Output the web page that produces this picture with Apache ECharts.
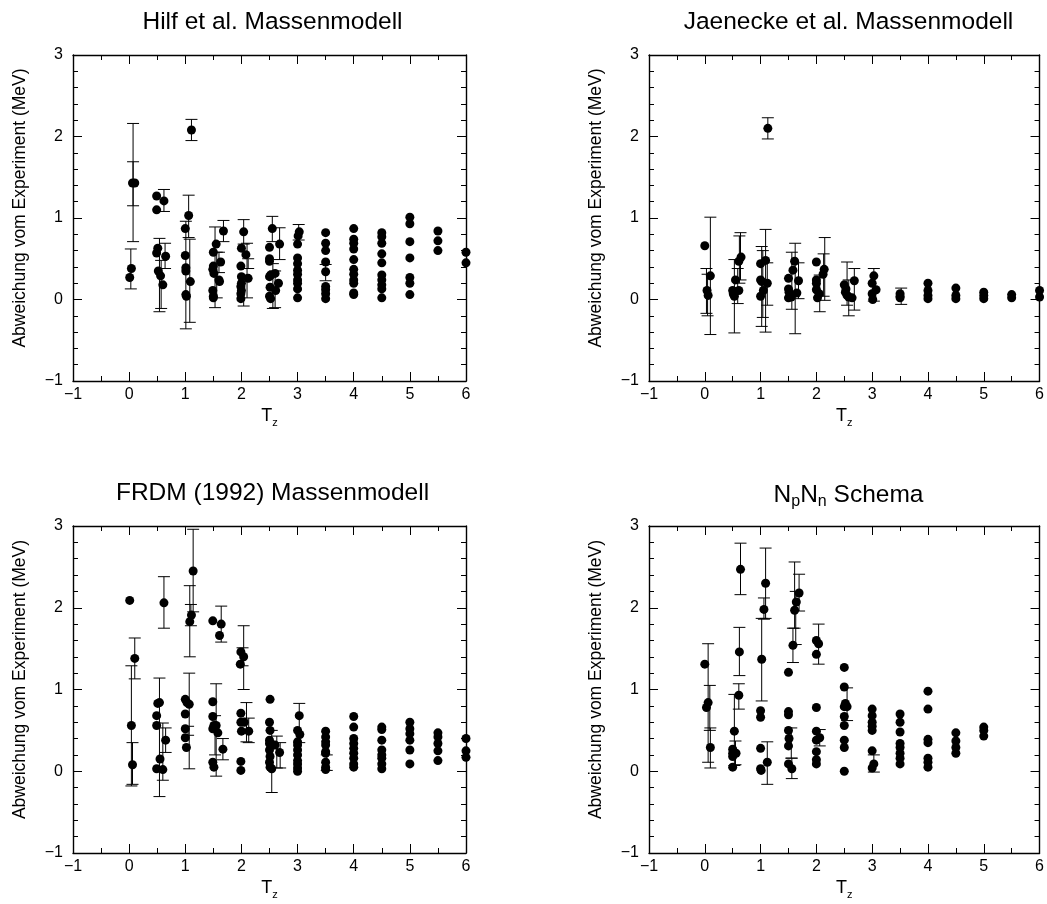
<!DOCTYPE html>
<html>
<head>
<meta charset="utf-8">
<script src="https://cdn.jsdelivr.net/npm/echarts@6/dist/echarts.min.js"></script>
<style>
html,body{margin:0;padding:0;background:#fff;}
#chart{width:1047px;height:904px;}
</style>
</head>
<body>
<div id="chart"></div>
<script>
// ---------- DATA ----------
const panelTitles = ['Hilf et al. Massenmodell', 'Jaenecke et al. Massenmodell', 'FRDM (1992) Massenmodell', '{a|N}{s|p}{a|N}{s|n}{a| Schema}'];
const yAxisTitle = 'Abweichung vom Experiment (MeV)';

// Hilf et al. : points [Tz, deviation]
const hilfPoints = [
  [0.01,0.27],[0.04,0.38],[0.06,1.43],[0.1,1.43],
  [0.49,1.27],[0.49,1.10],[0.62,1.21],[0.51,0.63],[0.49,0.57],[0.52,0.35],[0.56,0.29],[0.6,0.18],[0.65,0.53],
  [1.11,2.08],[1.0,0.87],[1.06,1.03],[1.0,0.54],[1.01,0.39],[1.01,0.35],[1.09,0.22],[1.01,0.06],[1.02,0.04],
  [1.5,0.58],[1.55,0.68],[1.68,0.84],[1.5,0.41],[1.49,0.37],[1.51,0.32],[1.63,0.46],[1.6,0.24],[1.61,0.22],[1.49,0.11],[1.5,0.04],[1.5,0.02],
  [2.04,0.83],[2.0,0.63],[2.08,0.55],[1.99,0.41],[2.0,0.28],[2.12,0.26],[2.0,0.2],[1.99,0.16],[2.0,0.11],[1.99,0.07],[1.99,0.01],
  [2.55,0.87],[2.68,0.68],[2.5,0.64],[2.5,0.5],[2.5,0.47],[2.52,0.3],[2.5,0.28],[2.6,0.32],[2.66,0.2],[2.51,0.15],[2.61,0.11],[2.5,0.04],[2.52,0.01],
  [3.03,0.83],[3.01,0.78],[3,0.68],[3,0.51],[3,0.44],[3,0.36],[3,0.31],[3,0.24],[3,0.2],[3,0.13],[3,0.02],
  [3.5,0.82],[3.5,0.69],[3.5,0.6],[3.5,0.46],[3.5,0.34],[3.5,0.16],[3.5,0.12],[3.5,0.07],[3.5,0.01],
  [4,0.87],[4,0.74],[4,0.69],[4,0.62],[4,0.49],[4,0.37],[4,0.31],[4,0.24],[4,0.2],[4,0.08],[4,0.06],
  [4.5,0.82],[4.5,0.77],[4.5,0.69],[4.5,0.56],[4.5,0.45],[4.5,0.3],[4.5,0.24],[4.5,0.18],[4.5,0.13],[4.5,0.02],
  [5,1.01],[5,0.93],[5,0.71],[5,0.51],[5,0.27],[5,0.2],[5,0.06],
  [5.5,0.84],[5.5,0.72],[5.5,0.6],
  [6,0.58],[6,0.45]
];
// error bars [Tz, low, high]
const hilfErrors = [
  [0.07,0.71,2.16],[0.07,1.15,1.69],[0.03,0.13,0.62],
  [0.62,1.08,1.35],[0.64,0.38,0.69],[0.54,-0.15,0.75],[0.57,-0.11,0.48],
  [1.11,1.95,2.21],[1.06,0.76,1.28],[1.01,-0.36,0.96],[1.08,-0.28,0.74],
  [1.53,-0.1,0.89],[1.56,0.02,0.58],[1.68,0.71,0.97],[1.6,0.33,0.58],
  [2.04,0.68,0.98],[2.04,-0.08,0.3],[2.1,0.02,0.69],[2.12,0.38,0.5],
  [2.55,0.71,1.02],[2.68,0.49,0.88],[2.56,-0.11,0.44],[2.6,-0.1,0.35],
  [3.02,0.73,0.92],[3.5,0.23,0.43]
];

// Jaenecke et al.
const jaenPoints = [
  [0,0.66],[0.04,0.11],[0.06,0.05],[0.1,0.29],
  [0.5,0.11],[0.51,0.07],[0.53,0.04],[0.55,0.24],[0.61,0.11],[0.61,0.47],[0.65,0.52],
  [1.0,0.44],[1.09,0.48],[1.0,0.24],[1.02,0.22],[1.12,0.2],[1.05,0.11],[1.0,0.04],[1.13,2.1],
  [1.5,0.26],[1.61,0.47],[1.58,0.36],[1.68,0.23],[1.5,0.13],[1.51,0.09],[1.5,0.02],[1.55,0.03],[1.65,0.08],
  [2,0.46],[2.14,0.37],[2.12,0.31],[2,0.24],[2,0.2],[2,0.12],[2.05,0.07],[2.02,0.02],
  [2.68,0.23],[2.5,0.18],[2.53,0.13],[2.52,0.09],[2.55,0.05],[2.58,0.03],[2.64,0.02],
  [3.03,0.29],[3,0.2],[3.07,0.12],[3,0.07],[3.01,0.0],
  [3.5,0.07],[3.5,0.04],[3.5,0.02],
  [4,0.2],[4,0.11],[4,0.05],[4,0.01],
  [4.5,0.14],[4.5,0.05],[4.5,0.01],
  [5,0.09],[5,0.05],[5,0.01],
  [5.5,0.06],[5.5,0.02],
  [6,0.11],[6,0.03]
];
const jaenErrors = [
  [0.1,-0.43,1.01],[0.03,-0.17,0.38],[0.05,-0.2,0.31],
  [0.53,-0.41,0.49],[0.59,-0.05,0.38],[0.64,0.24,0.82],[0.62,0.2,0.78],
  [1.02,-0.33,0.65],[1.09,-0.4,0.86],[1.12,-0.07,0.45],[1.04,-0.22,0.6],[1.13,1.97,2.23],
  [1.56,-0.12,0.58],[1.62,-0.42,0.69],[1.68,0.01,0.45],
  [2.15,-0.01,0.76],[2.13,0.04,0.56],[2.06,-0.15,0.3],
  [2.55,-0.07,0.46],[2.58,-0.2,0.24],[2.68,-0.13,0.38],
  [3.03,-0.02,0.38],[3.52,-0.06,0.14]
];

// FRDM (1992)
const frdmPoints = [
  [0.01,2.09],[0.1,1.38],[0.04,0.56],[0.06,0.08],
  [0.62,2.06],[0.51,0.83],[0.54,0.84],[0.49,0.68],[0.49,0.56],[0.65,0.38],[0.55,0.15],[0.49,0.03],[0.6,0.02],
  [1.14,2.45],[1.11,1.91],[1.08,1.83],[1.0,0.88],[1.03,0.84],[1.07,0.82],[1.0,0.7],[1.0,0.52],[1.0,0.41],[1.02,0.29],
  [1.49,1.84],[1.64,1.8],[1.61,1.66],[1.49,0.85],[1.49,0.67],[1.51,0.56],[1.55,0.56],[1.49,0.52],[1.58,0.47],[1.67,0.27],[1.49,0.11],[1.51,0.05],
  [1.99,1.46],[2.04,1.4],[1.98,1.31],[1.99,0.71],[1.99,0.6],[2.05,0.6],[2.0,0.49],[2.13,0.49],[1.99,0.12],[1.99,0.01],
  [2.51,0.88],[2.5,0.6],[2.51,0.5],[2.5,0.38],[2.5,0.34],[2.56,0.32],[2.6,0.32],[2.68,0.23],[2.5,0.26],[2.51,0.18],[2.5,0.11],[2.51,0.05],[2.54,0.03],
  [3.03,0.68],[3,0.5],[3.04,0.45],[3,0.36],[3,0.32],[3,0.26],[3,0.2],[3,0.13],[3,0.09],[3,0.04],[3,0.0],
  [3.5,0.49],[3.5,0.42],[3.5,0.36],[3.5,0.32],[3.5,0.24],[3.5,0.22],[3.5,0.11],[3.5,0.05],[3.5,0.02],
  [4,0.67],[4,0.54],[4,0.4],[4,0.34],[4,0.28],[4,0.22],[4,0.16],[4,0.09],[4,0.05],
  [4.5,0.54],[4.5,0.51],[4.5,0.38],[4.5,0.26],[4.5,0.2],[4.5,0.16],[4.5,0.09],[4.5,0.03],
  [5,0.6],[5,0.52],[5,0.46],[5,0.38],[5,0.26],[5,0.09],
  [5.5,0.47],[5.5,0.42],[5.5,0.34],[5.5,0.25],[5.5,0.13],
  [6,0.4],[6,0.25],[6,0.17]
];
const frdmErrors = [
  [0.1,1.13,1.63],[0.04,-0.18,1.29],[0.06,-0.16,0.35],
  [0.62,1.75,2.38],[0.65,0.23,0.53],[0.54,-0.31,1.14],[0.6,-0.11,0.59],
  [1.14,1.95,2.96],[1.08,1.4,2.27],[1.1,1.78,2.04],[1.07,0.03,1.2],[1.05,0.44,0.55],
  [1.64,1.58,2.02],[1.67,0.14,0.4],[1.55,-0.06,1.07],[1.53,0.2,0.68],
  [2.04,1.0,1.78],[2.02,1.29,1.51],[2.09,0.36,0.84],[2.13,0.35,0.65],
  [2.54,-0.26,0.5],[2.63,0.04,0.43],[2.69,0.04,0.35],
  [3.03,0.35,0.83],[3.52,0.01,0.2]
];

// NpNn Schema
const npnnPoints = [
  [0,1.31],[0.06,0.84],[0.03,0.78],[0.1,0.29],
  [0.64,2.47],[0.62,1.46],[0.61,0.93],[0.53,0.49],[0.5,0.27],[0.5,0.22],[0.56,0.22],[0.5,0.18],[0.5,0.05],
  [1.09,2.3],[1.06,1.98],[1.02,1.37],[1.0,0.74],[1.0,0.66],[1.0,0.28],[1.0,0.03],[1.01,0.01],[1.12,0.11],
  [1.5,1.21],[1.5,0.73],[1.5,0.69],[1.5,0.5],[1.51,0.4],[1.5,0.31],[1.5,0.09],[1.56,0.03],
  [1.69,2.18],[1.64,2.07],[1.61,1.97],[1.58,1.54],
  [2,1.6],[2.04,1.56],[2,1.43],[2,0.78],[2,0.49],[2.06,0.41],[2,0.38],[2,0.24],[2,0.14],[2,0.09],
  [2.5,1.27],[2.5,1.03],[2.52,0.83],[2.55,0.79],[2.5,0.79],[2.5,0.67],[2.5,0.56],[2.5,0.38],[2.5,0.29],[2.5,0.0],
  [3,0.76],[3,0.68],[3,0.6],[3,0.55],[3,0.5],[3,0.25],[3.03,0.09],[3,0.04],
  [3.5,0.7],[3.5,0.6],[3.5,0.48],[3.5,0.34],[3.5,0.29],[3.5,0.22],[3.5,0.16],[3.5,0.09],
  [4,0.98],[4,0.76],[4,0.39],[4,0.35],[4,0.16],[4,0.11],[4,0.05],
  [4.5,0.47],[4.5,0.37],[4.5,0.29],[4.5,0.22],
  [5,0.54],[5,0.5],[5,0.43]
];
const npnnErrors = [
  [0.06,0.11,1.56],[0.09,0.5,1.05],[0.1,0.04,0.53],
  [0.64,2.16,2.79],[0.62,1.17,1.76],[0.61,0.76,1.07],[0.53,0.07,0.94],[0.55,0.08,0.37],
  [1.09,1.87,2.73],[1.06,1.86,2.12],[1.02,0.86,1.87],[1.12,-0.16,0.36],
  [1.69,1.96,2.41],[1.61,1.75,2.56],[1.58,1.33,1.75],[1.63,1.55,2.2],[1.56,-0.09,0.16],[1.55,0.16,0.53],
  [2.04,1.31,1.8],[2.06,0.31,0.51],
  [2.55,0.62,1.02],[3.03,-0.01,0.2]
];

// ---------- LAYOUT ----------
const FONT = '"Liberation Sans", Arial, Helvetica, sans-serif';
const grids = [
  {left: 73, top: 55, width: 393, height: 326},
  {left: 649, top: 55, width: 393, height: 326},
  {left: 73, top: 526, width: 393, height: 327},
  {left: 649, top: 526, width: 393, height: 327}
];
const panels = [
  {pts: hilfPoints, err: hilfErrors},
  {pts: jaenPoints, err: jaenErrors},
  {pts: frdmPoints, err: frdmErrors},
  {pts: npnnPoints, err: npnnErrors}
];
const minus = v => String(v).replace('-', '\u2212');
const lineStyle = {color: '#000', width: 1.4};

const xAxes = [], yAxes = [], series = [], titles = [];
grids.forEach((g, i) => {
  const baseX = {
    gridIndex: i, type: 'value', min: -1, max: 6, interval: 1,
    axisLine: {show: true, onZero: false, lineStyle},
    axisTick: {show: true, inside: true, length: 9, lineStyle: {color: '#000', width: 1}},
    minorTick: {show: true, splitNumber: 2, length: 5, lineStyle: {color: '#000', width: 1}},
    splitLine: {show: false}, minorSplitLine: {show: false}
  };
  const baseY = {
    gridIndex: i, type: 'value', min: -1, max: 3, interval: 1,
    axisLine: {show: true, onZero: false, lineStyle},
    axisTick: {show: true, inside: true, length: 9, lineStyle: {color: '#000', width: 1}},
    minorTick: {show: true, splitNumber: 5, length: 5, lineStyle: {color: '#000', width: 1}},
    splitLine: {show: false}, minorSplitLine: {show: false}
  };
  xAxes.push(Object.assign({}, baseX, {
    position: 'bottom',
    axisLabel: {show: true, color: '#000', fontSize: 16, fontFamily: FONT, margin: 6, formatter: minus},
    name: '{t|T}{s|z}', nameLocation: 'middle', nameGap: 24,
    nameTextStyle: {rich: {
      t: {fontSize: 18, fontFamily: FONT, color: '#000'},
      s: {fontSize: 11, fontFamily: FONT, color: '#000', padding: [12, 0, 0, 0]}
    }}
  }));
  xAxes.push(Object.assign({}, baseX, {position: 'top', axisLabel: {show: false}}));
  yAxes.push(Object.assign({}, baseY, {
    position: 'left',
    axisLabel: {show: true, color: '#000', fontSize: 16, fontFamily: FONT, margin: 10, formatter: minus},
    name: yAxisTitle, nameLocation: 'middle', nameGap: 44,
    nameTextStyle: {fontSize: 17.5, fontFamily: FONT, color: '#000', padding: [0, 0, 0, 20]}
  }));
  yAxes.push(Object.assign({}, baseY, {position: 'right', axisLabel: {show: false}}));

  titles.push({
    text: panelTitles[i],
    left: g.left + g.width / 2 - 2, top: g.top - 50, textAlign: 'center',
    textStyle: {
      fontSize: 24.5, fontWeight: 'normal', fontFamily: FONT, color: '#000',
      rich: {
        a: {fontSize: 24.5, fontFamily: FONT, color: '#000'},
        s: {fontSize: 16, fontFamily: FONT, color: '#000', padding: [13, 0, 0, 0]}
      }
    }
  });

  series.push({
    type: 'custom', xAxisIndex: 2 * i, yAxisIndex: 2 * i, clip: false, silent: true,
    data: panels[i].err,
    renderItem: function (params, api) {
      const x = api.value(0), lo = api.value(1), hi = api.value(2);
      const a = api.coord([x, lo]), b = api.coord([x, hi]);
      const h = 6;
      const st = {stroke: '#000', lineWidth: 1};
      return {type: 'group', children: [
        {type: 'line', shape: {x1: a[0], y1: a[1], x2: b[0], y2: b[1]}, style: st},
        {type: 'line', shape: {x1: a[0] - h, y1: a[1], x2: a[0] + h, y2: a[1]}, style: st},
        {type: 'line', shape: {x1: b[0] - h, y1: b[1], x2: b[0] + h, y2: b[1]}, style: st}
      ]};
    }
  });
  series.push({
    type: 'scatter', xAxisIndex: 2 * i, yAxisIndex: 2 * i, clip: false, silent: true,
    symbol: 'circle', symbolSize: 9, itemStyle: {color: '#000', opacity: 1},
    data: panels[i].pts
  });
});

const chart = echarts.init(document.getElementById('chart'), null, {renderer: 'canvas'});
chart.setOption({
  animation: false,
  backgroundColor: '#fff',
  title: titles,
  grid: grids,
  xAxis: xAxes,
  yAxis: yAxes,
  series: series
});
</script>
</body>
</html>
